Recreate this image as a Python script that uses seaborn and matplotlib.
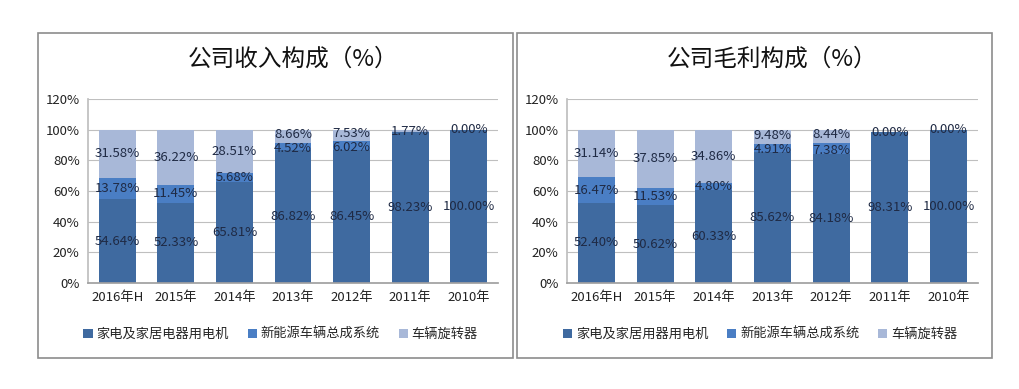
import numpy as np
import pandas as pd
import seaborn as sns
import matplotlib.pyplot as plt
from matplotlib.patches import Rectangle
from matplotlib.ticker import FuncFormatter

years = ["2016年H", "2015年", "2014年", "2013年", "2012年", "2011年", "2010年"]

rev_home = [54.64, 52.33, 65.81, 86.82, 86.45, 98.23, 100.00]
rev_nev = [13.78, 11.45, 5.68, 4.52, 6.02, np.nan, np.nan]
rev_rot = [31.58, 36.22, 28.51, 8.66, 7.53, 1.77, 0.00]

gp_home = [52.40, 50.62, 60.33, 85.62, 84.18, 98.31, 100.00]
gp_nev = [16.47, 11.53, 4.80, 4.91, 7.38, np.nan, np.nan]
gp_rot = [31.14, 37.85, 34.86, 9.48, 8.44, 0.00, 0.00]

c_home = "#3F6AA0"
c_nev = "#4A7EC4"
c_rot = "#A8B8D8"
c_text = "#1F2A44"

sns.set_theme(style="white")
plt.rcParams["font.family"] = ["Noto Sans CJK SC", "DejaVu Sans"]


def draw(ax, title, home, nev, rot, legend_names):
    df = pd.DataFrame({"year": years, "home": home,
                       "nev": np.nan_to_num(nev), "rot": rot})
    df["c1"] = df["home"]
    df["c2"] = df["c1"] + df["nev"]
    df["c3"] = df["c2"] + df["rot"]

    # stacked bars: draw the totals first, then overlay the lower parts
    sns.barplot(ax=ax, data=df, x="year", y="c3", color=c_rot, width=0.63,
                saturation=1, linewidth=0, label=legend_names[2])
    sns.barplot(ax=ax, data=df, x="year", y="c2", color=c_nev, width=0.63,
                saturation=1, linewidth=0, label=legend_names[1])
    sns.barplot(ax=ax, data=df, x="year", y="c1", color=c_home, width=0.63,
                saturation=1, linewidth=0, label=legend_names[0])

    for i in range(len(years)):
        ax.text(i, df.c1[i] / 2, f"{home[i]:.2f}%", ha="center", va="center",
                fontsize=9.5, color=c_text)
        small = df.rot[i] < 12 and df.nev[i] > 0
        if not np.isnan(nev[i]):
            ax.text(i, df.c1[i] + df.nev[i] / 2 - (1.2 if small else 0),
                    f"{nev[i]:.2f}%", ha="center", va="center",
                    fontsize=9.5, color=c_text)
        ax.text(i, df.c2[i] + rot[i] / 2 + (1.2 if small else 0),
                f"{rot[i]:.2f}%", ha="center", va="center", fontsize=9.5,
                color=c_text)

    ax.set_ylim(0, 120)
    ax.set_yticks(range(0, 121, 20))
    ax.yaxis.set_major_formatter(FuncFormatter(lambda v, p: f"{v:.0f}%"))
    ax.set_xlim(-0.5, len(years) - 0.5)
    ax.grid(axis="y", color="#BFBFBF", linewidth=0.8)
    ax.set_axisbelow(True)
    for s in ["top", "right"]:
        ax.spines[s].set_visible(False)
    ax.spines["left"].set_color("#BFBFBF")
    ax.spines["bottom"].set_color("#A0A0A0")
    ax.tick_params(axis="both", labelsize=9.5, colors="#222222", length=0, pad=6)
    ax.set_xlabel("")
    ax.set_ylabel("")
    ax.set_title(title, fontsize=17, pad=24, color="#111111")

    h, l = ax.get_legend_handles_labels()
    order = [2, 1, 0]
    ax.legend([h[k] for k in order], [l[k] for k in order], loc="upper center",
              bbox_to_anchor=(0.47, -0.18), ncol=3, frameon=False,
              fontsize=9.5, handlelength=0.7, handleheight=0.7,
              handletextpad=0.3, columnspacing=1.4)


fig = plt.figure(figsize=(10.2, 3.89), dpi=100)
fig.patch.set_facecolor("white")

fig.add_artist(Rectangle((38 / 1020, 1 - 358 / 389), 475 / 1020, 325 / 389,
                         transform=fig.transFigure, fill=False,
                         edgecolor="#8C8C8C", linewidth=1.2))
fig.add_artist(Rectangle((517 / 1020, 1 - 358 / 389), 475 / 1020, 325 / 389,
                         transform=fig.transFigure, fill=False,
                         edgecolor="#8C8C8C", linewidth=1.2))

ax1 = fig.add_axes([88 / 1020, 1 - 283 / 389, 410 / 1020, 184 / 389])
ax2 = fig.add_axes([567 / 1020, 1 - 283 / 389, 411 / 1020, 184 / 389])

draw(ax1, "公司收入构成（%）", rev_home, rev_nev, rev_rot,
     ["家电及家居电器用电机", "新能源车辆总成系统", "车辆旋转器"])
draw(ax2, "公司毛利构成（%）", gp_home, gp_nev, gp_rot,
     ["家电及家居用器用电机", "新能源车辆总成系统", "车辆旋转器"])

fig.savefig("out.png", dpi=100)
plt.close(fig)
